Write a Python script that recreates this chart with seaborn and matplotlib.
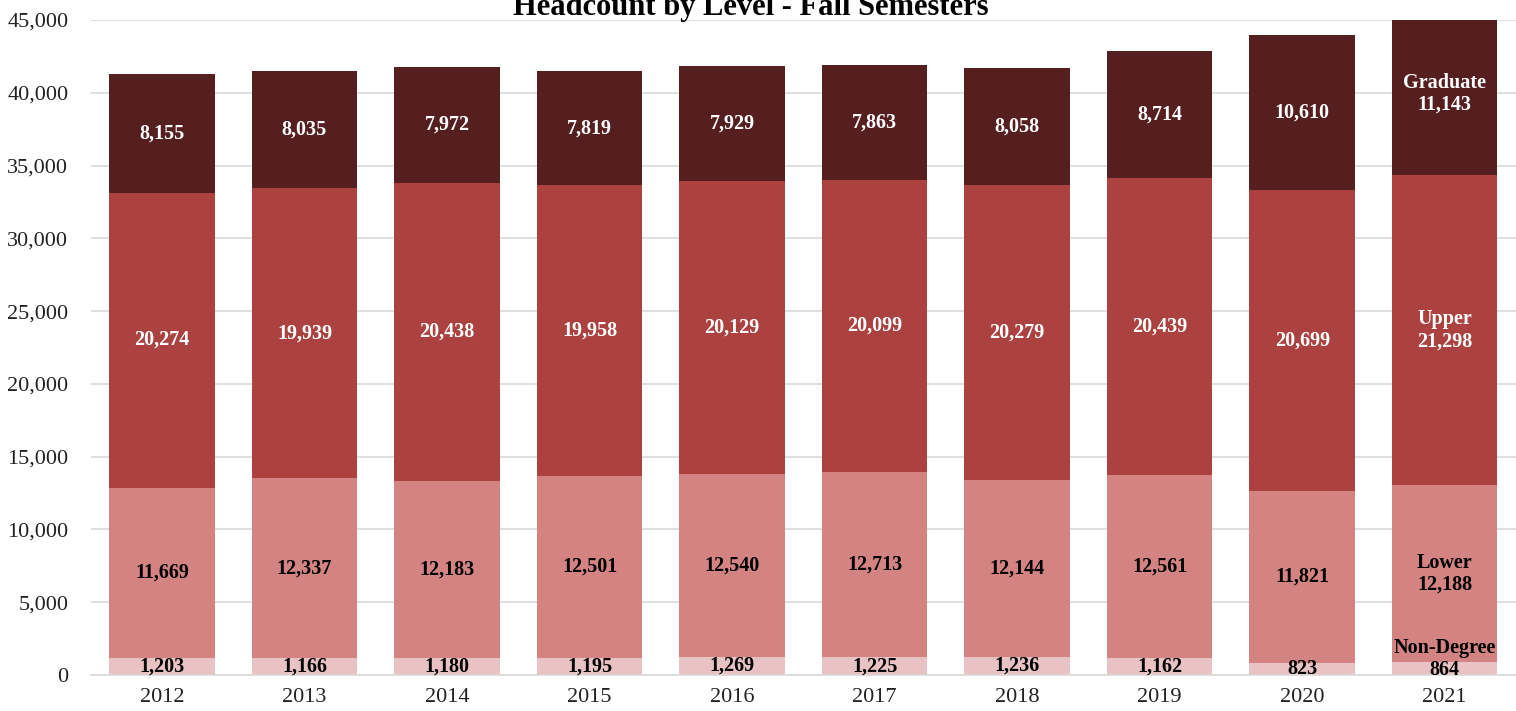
import matplotlib
matplotlib.use("Agg")
import matplotlib.pyplot as plt
import seaborn as sns
import numpy as np
import pandas as pd

years = ["2012", "2013", "2014", "2015", "2016", "2017", "2018", "2019", "2020", "2021"]
non_degree = [1203, 1166, 1180, 1195, 1269, 1225, 1236, 1162, 823, 864]
lower = [11669, 12337, 12183, 12501, 12540, 12713, 12144, 12561, 11821, 12188]
upper = [20274, 19939, 20438, 19958, 20129, 20099, 20279, 20439, 20699, 21298]
graduate = [8155, 8035, 7972, 7819, 7929, 7863, 8058, 8714, 10610, 11143]

levels = ["Non-Degree", "Lower", "Upper", "Graduate"]
series = [non_degree, lower, upper, graduate]
colors = ["#E9C3C3", "#D38382", "#AB4240", "#561F1F"]
text_colors = ["black", "black", "white", "white"]

sns.set_theme(style="white")
plt.rcParams["font.family"] = ["Liberation Serif", "DejaVu Serif"]

fig = plt.figure(figsize=(15.16, 7.11), dpi=100)
ax = fig.add_axes([0.0598, 0.0506, 0.9402, 0.9213])

vals = np.array(series, dtype=float)
cum = np.cumsum(vals, axis=0)

# Draw cumulative bars from top layer down so they stack visually
for i in range(len(levels) - 1, -1, -1):
    df = pd.DataFrame({"Year": years, "Value": cum[i]})
    sns.barplot(data=df, x="Year", y="Value", color=colors[i], saturation=1,
                width=0.74, ax=ax, zorder=2, linewidth=0)

# Labels
for i, lvl in enumerate(levels):
    for j, y in enumerate(years):
        base = cum[i][j] - vals[i][j]
        center = base + vals[i][j] / 2
        txt = f"{int(vals[i][j]):,}"
        dy = 0
        if j == len(years) - 1:
            txt = f"{lvl}\n{txt}"
            if i == 0:
                dy = 10
        ax.annotate(txt, (j, center), xytext=(0, dy), textcoords="offset pixels",
                    ha="center", va="center", fontsize=14.5, fontweight="bold",
                    color=text_colors[i], zorder=5, linespacing=1.15,
                    annotation_clip=False)

ax.set_ylim(0, 45000)
ax.set_xlim(-0.5, len(years) - 0.5)
ax.set_yticks(np.arange(0, 45001, 5000))
ax.yaxis.set_major_formatter(matplotlib.ticker.FuncFormatter(lambda v, p: f"{int(v):,}"))
ax.grid(axis="y", color="#D9D9D9", linewidth=1.2, zorder=0)
ax.set_axisbelow(True)
for s in ["top", "right", "left"]:
    ax.spines[s].set_visible(False)
ax.spines["bottom"].set_color("#D9D9D9")
ax.spines["bottom"].set_linewidth(1.2)
ax.tick_params(axis="both", length=0, labelsize=16, colors="#222222")
ax.tick_params(axis="x", pad=9)
ax.tick_params(axis="y", pad=16)
ax.set_xlabel("")
ax.set_ylabel("")

fig.text(0.495, 0.99, "Headcount by Level - Fall Semesters", ha="center", va="center",
         fontsize=22, fontweight="bold", color="black")

fig.savefig("out.png", dpi=100)
